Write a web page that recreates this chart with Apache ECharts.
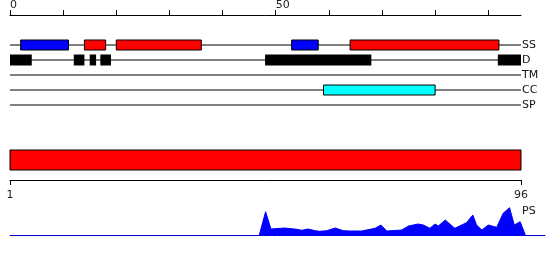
<!DOCTYPE html>
<html><head><meta charset="utf-8">
<script src="https://cdn.jsdelivr.net/npm/echarts@6/dist/echarts.min.js"></script>
<style>html,body{margin:0;padding:0;background:#fff}#c{width:550px;height:260px}</style>
</head><body><div id="c"></div>
<script>
// ---- data ----
const trackNames = ['SS', 'D', 'TM', 'CC', 'SP'];
const ssHelix = [[2, 11], [53, 58]];                 // blue boxes on SS
const ssStrand = [[14, 18], [20, 36], [64, 92]];     // red boxes on SS
const disorder = [[0, 4.1], [12, 14], [15, 16.2], [17, 19], [48, 68], [91.8, 96.16]];
const coiled = [[59, 80]];
const seqLength = 96;
const topTickLabels = [0, 50];
const rulerLabels = [1, 96];
const psPos = [46.9, 48.1, 49.1, 51.7, 54.0, 54.9, 56.1, 57.4, 58.3, 59.6, 61.2, 62.7, 64.0, 66.2, 68.7, 69.8, 70.9, 73.7, 75.0, 76.8, 77.8, 79.0, 80.0, 80.6, 81.9, 83.7, 85.9, 87.1, 87.8, 88.8, 90.0, 91.6, 92.8, 94.0, 94.9, 96.0, 97.0];
const psVal = [0, 23.6, 6.3, 7.3, 6.0, 5.0, 6.3, 4.6, 4.0, 4.6, 7.3, 4.6, 4.3, 4.3, 7.0, 10.3, 4.3, 5.3, 9.3, 11.3, 10.3, 7.0, 11.3, 9.3, 15.3, 7.0, 12.6, 20.3, 10.3, 5.3, 10.3, 8.0, 22.0, 27.6, 10.3, 13.6, 0];

// ---- chart ----
const FONT = 'DejaVu Sans';
const featMax = 96.16;
const trackY = i => i + 2;

function boxes(list, track) {
  return list.map(r => [r[0], r[1], trackY(track)]);
}
function renderBox(h, stroke) {
  return function (params, api) {
    const s = api.coord([api.value(0), api.value(2)]);
    const e = api.coord([api.value(1), api.value(2)]);
    return {
      type: 'rect',
      shape: { x: s[0], y: s[1] - h / 2, width: e[0] - s[0], height: h },
      style: { fill: api.visual('color'), stroke: stroke, lineWidth: stroke ? 1 : 0 }
    };
  };
}

const trackSeries = trackNames.map((n, i) => ({
  type: 'line', xAxisIndex: 0, yAxisIndex: 0, silent: true, symbol: 'none',
  lineStyle: { color: '#000', width: 1 }, z: 1,
  data: [[0, trackY(i)], [featMax, trackY(i)]]
}));

const psData = psPos.map((p, i) => [p, psVal[i]]);

const chart = echarts.init(document.getElementById('c'), null, { renderer: 'canvas' });
chart.setOption({
  animation: false,
  textStyle: { fontFamily: FONT },
  grid: [
    { left: 10, width: 511, top: 15, height: 105 },
    { left: 10, width: 511, top: 150, height: 30 },
    { left: 10, right: 5, top: 205.3, height: 30 }
  ],
  xAxis: [
    {
      gridIndex: 0, type: 'value', position: 'top', min: 0, max: featMax, interval: 10,
      axisLine: { show: true, onZero: false, lineStyle: { color: '#000', width: 1 } },
      axisTick: { length: 5, lineStyle: { color: '#000' } },
      splitLine: { show: false },
      axisLabel: {
        color: '#222', fontSize: 11, fontFamily: FONT, align: 'left', margin: 4,
        showMaxLabel: false,
        formatter: v => (topTickLabels.indexOf(v) >= 0 ? String(v) : '')
      }
    },
    {
      gridIndex: 1, type: 'value', position: 'bottom', min: 1, max: seqLength,
      axisLine: { show: true, onZero: false, lineStyle: { color: '#000', width: 1 } },
      axisTick: { show: true, length: 5, lineStyle: { color: '#000' }, customValues: rulerLabels },
      splitLine: { show: false },
      axisLabel: { color: '#222', fontSize: 11, fontFamily: FONT, margin: 10, customValues: rulerLabels }
    },
    {
      gridIndex: 2, type: 'value', min: 0, max: 100.68,
      axisLine: { show: true, onZero: false, lineStyle: { color: '#0000cc', width: 1 } },
      axisTick: { show: false }, axisLabel: { show: false }, splitLine: { show: false }
    }
  ],
  yAxis: [
    {
      gridIndex: 0, type: 'value', position: 'right', min: 0, max: 7, interval: 1, inverse: true,
      axisLine: { show: false }, axisTick: { show: false }, splitLine: { show: false },
      axisLabel: {
        color: '#111', fontSize: 11, fontFamily: FONT, margin: 1, align: 'left',
        formatter: v => trackNames[v - 2] || ''
      }
    },
    {
      gridIndex: 1, type: 'value', min: 0, max: 3, inverse: true, show: false
    },
    {
      gridIndex: 2, type: 'value', min: 0, max: 30, show: false
    }
  ],
  graphic: [
    { type: 'text', left: 522, top: 206, style: { text: 'PS', fill: '#111', font: '11px "DejaVu Sans"' } }
  ],
  series: trackSeries.concat([
    { type: 'custom', xAxisIndex: 0, yAxisIndex: 0, z: 3, itemStyle: { color: '#0000ff' },
      renderItem: renderBox(10, '#000'), data: boxes(ssHelix, 0) },
    { type: 'custom', xAxisIndex: 0, yAxisIndex: 0, z: 3, itemStyle: { color: '#ff0000' },
      renderItem: renderBox(10, '#000'), data: boxes(ssStrand, 0) },
    { type: 'custom', xAxisIndex: 0, yAxisIndex: 0, z: 3, itemStyle: { color: '#000000' },
      renderItem: renderBox(11, null), data: boxes(disorder, 1) },
    { type: 'custom', xAxisIndex: 0, yAxisIndex: 0, z: 3, itemStyle: { color: '#00ffff' },
      renderItem: renderBox(10, '#000'), data: boxes(coiled, 3) },
    { type: 'custom', xAxisIndex: 1, yAxisIndex: 1, z: 3, itemStyle: { color: '#ff0000' },
      renderItem: function (params, api) {
        const s = api.coord([api.value(0), 0]);
        const e = api.coord([api.value(1), 2]);
        return { type: 'rect', shape: { x: s[0], y: s[1], width: e[0] - s[0], height: e[1] - s[1] },
          style: { fill: api.visual('color'), stroke: '#000', lineWidth: 1 } };
      },
      data: [[1, seqLength]] },
    { type: 'line', xAxisIndex: 2, yAxisIndex: 2, symbol: 'none', silent: true,
      lineStyle: { color: '#0000ff', width: 1 }, areaStyle: { color: '#0000ff', opacity: 1 },
      data: psData }
  ])
});
</script>
</body></html>
